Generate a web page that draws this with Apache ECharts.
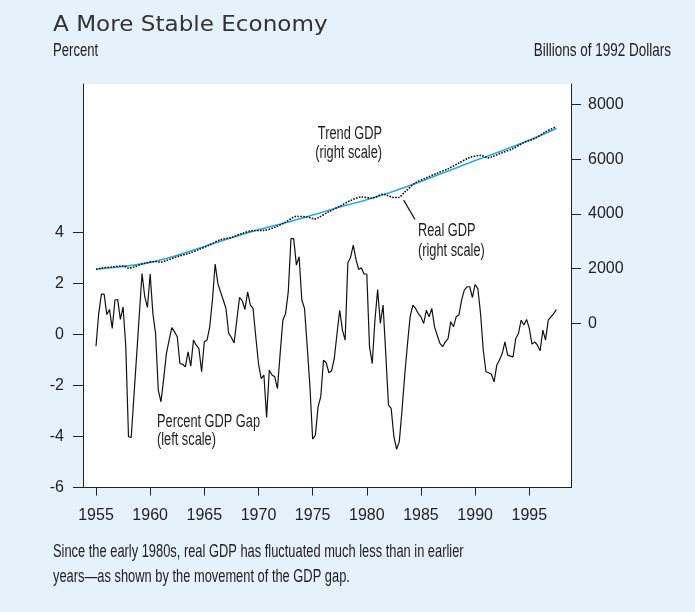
<!DOCTYPE html>
<html><head><meta charset="utf-8">
<script src="https://cdn.jsdelivr.net/npm/echarts@6/dist/echarts.min.js"></script>
<style>html,body{margin:0;padding:0;background:#e5f2fb}#c{width:695px;height:612px}</style>
</head><body><div id="c"></div>
<script>
// ---- data ----
const gapStartYear = 1955;          // quarterly series, first quarter of 1955
const gapPct = [
 -0.46,0.82,1.58,1.58,0.78,0.98,0.24,1.35,1.37,0.59,1.08,-0.48,
 -4.01,-4.04,-2.43,-0.83,0.78,2.39,1.48,1.06,2.37,0.82,0.04,-2.18,
 -2.64,-1.73,-0.75,-0.22,0.27,0.10,-0.09,-1.14,-1.17,-1.27,-0.68,-1.24,
 -0.22,-0.42,-0.55,-1.46,-0.29,-0.22,0.30,1.35,2.76,2.00,1.67,1.35,
 1.02,0.04,-0.12,-0.33,0.56,1.45,1.32,0.98,1.67,1.15,1.02,-0.09,
 -1.14,-1.73,-1.59,-3.25,-1.40,-1.59,-1.66,-2.12,-0.75,0.56,0.82,1.67,
 3.76,3.76,2.72,3.05,1.35,1.02,-0.48,-2.05,-4.10,-3.95,-2.84,-2.44,
 -1.01,-1.11,-1.50,-1.42,-0.94,0.04,0.95,0.17,-0.22,2.81,3.02,3.50,
 2.94,2.55,2.61,2.37,2.37,-0.48,-1.14,0.56,1.76,0.43,1.15,-0.75,
 -2.77,-2.90,-4.01,-4.50,-4.20,-2.97,-1.60,-0.40,0.70,1.15,1.02,0.82,
 0.69,0.43,0.95,0.69,1.02,0.30,-0.03,-0.35,-0.48,-0.29,-0.16,0.50,
 0.30,0.69,0.76,1.35,1.74,1.87,1.87,1.45,1.96,1.80,0.82,-0.61,
 -1.46,-1.50,-1.56,-1.86,-1.20,-1.00,-0.75,-0.29,-0.81,-0.85,-0.88,-0.16,
 0.04,0.56,0.37,0.59,0.24,-0.38,-0.29,-0.42,-0.64,0.17,-0.22,0.56,
 0.69,0.82,0.98
];
const realYears = [1955,1955.5,1956.5,1957.5,1958.0,1958.5,1959.5,1960.5,1961.0,1961.5,1962.5,1963.5,1964.5,
 1965.5,1966.5,1967.5,1968.5,1969.5,1970.5,1971.5,1972.5,1973.5,1974.5,1975.2,1975.5,1976.5,1977.5,1978.5,
 1979.5,1980.5,1981.5,1982.5,1982.9,1983.5,1984.5,1985.5,1986.5,1987.5,1988.5,1989.5,1990.5,1991.2,1991.5,
 1992.5,1993.5,1994.5,1995.5,1996.5,1997.5];
const realGDP = [1970,2020,2060,2100,2020,2060,2200,2260,2240,2300,2440,2550,2700,
 2870,3060,3140,3290,3390,3400,3510,3700,3910,3890,3820,3860,4080,4280,4490,
 4620,4580,4720,4600,4600,4800,5140,5320,5490,5650,5860,6060,6140,6050,6080,
 6240,6390,6610,6760,7000,7190];
const trendYears = [1955,1957.5,1960,1962.5,1965,1967.5,1970,1972.5,1975,1977.5,1980,1982.5,1985,1987.5,1990,1992.5,1995,1997.5];
const trendGDP   = [1980,2080,2230,2490,2810,3130,3420,3680,3960,4250,4520,4830,5190,5570,5950,6310,6690,7120];
const xTicks = [1955,1960,1965,1970,1975,1980,1985,1990,1995];
const leftTicks = [-6,-4,-2,0,2,4];
const rightTicks = [0,2000,4000,6000,8000];

// ---- build ----
const gapData = gapPct.map((v,i)=>[gapStartYear + i*0.25, v]);
const realData = realYears.map((y,i)=>[y, realGDP[i]]);
const trendData = trendYears.map((y,i)=>[y, trendGDP[i]]);

const FONT = '"Liberation Sans", Arial, sans-serif';
const INK = '#222';
const SX = 0.71;
const axisCommon = {
  splitLine:{show:false},
  axisLine:{show:true, onZero:false, lineStyle:{color:INK, width:1}},
};
const labelCommon = {fontSize:16, fontFamily:FONT, color:INK, formatter:v=>String(v)};
function note(x, y, text, align, size, sx){
  return {type:'text', x:x, y:y, scaleX: sx, scaleY: 1,
    style:{text:text, fill:INK, font: size + 'px ' + FONT, align:align, verticalAlign:'middle'}};
}
const chart = echarts.init(document.getElementById('c'));
chart.setOption({
  backgroundColor:'#e5f2fb',
  animation:false,
  grid:{left:83, right:124, top:84, bottom:124.5, show:true, backgroundColor:'#ffffff', borderWidth:0},
  xAxis:Object.assign({type:'value', min:1953.8, max:1998.85,
    axisTick:{show:true, length:8, customValues:xTicks, lineStyle:{color:INK}},
    axisLabel:Object.assign({customValues:xTicks, margin:20}, labelCommon)
  }, axisCommon),
  yAxis:[
    Object.assign({type:'value', position:'left', min:-6, max:9.82,
      axisTick:{show:true, length:10, customValues:leftTicks, lineStyle:{color:INK}},
      axisLabel:Object.assign({customValues:leftTicks, margin:19}, labelCommon)
    }, axisCommon),
    Object.assign({type:'value', position:'right', min:-6000, max:8750,
      axisTick:{show:true, length:10, customValues:rightTicks, lineStyle:{color:INK}},
      axisLabel:Object.assign({customValues:rightTicks, margin:17}, labelCommon)
    }, axisCommon)
  ],
  series:[
    {name:'Trend GDP', type:'line', yAxisIndex:1, data:trendData, smooth:0.4, symbol:'none',
      lineStyle:{color:'#27aee3', width:1.6}},
    {name:'Real GDP', type:'line', yAxisIndex:1, data:realData, smooth:0.3, symbol:'none',
      lineStyle:{color:'#111', width:1.6, type:[1.6,1.3]}},
    {name:'Percent GDP Gap', type:'line', yAxisIndex:0, data:gapData, symbol:'none',
      lineStyle:{color:'#111', width:1.2}}
  ],
  graphic:[
    {type:'text', x:53, y:25, scaleX:1.05,
      style:{text:'A More Stable Economy', fill:'#333', font:'22px "DejaVu Sans", sans-serif', verticalAlign:'middle'}},
    note(53, 51, 'Percent', 'left', 18.5, SX),
    note(671, 51, 'Billions of 1992 Dollars', 'right', 18.5, SX + 0.02),
    note(382, 134, 'Trend GDP', 'right', 18, SX),
    note(382, 153, '(right scale)', 'right', 18, SX),
    note(418, 231, 'Real GDP', 'left', 18, SX),
    note(418, 251, '(right scale)', 'left', 18, SX),
    {type:'line', shape:{x1:403.6, y1:200, x2:415, y2:219.5}, style:{stroke:'#111', lineWidth:1.3}},
    note(157, 422, 'Percent GDP Gap', 'left', 18, SX),
    note(157, 440, '(left scale)', 'left', 18, SX),
    note(53, 552, 'Since the early 1980s, real GDP has fluctuated much less than in earlier', 'left', 18, SX + 0.005),
    note(53, 577, 'years\u2014as shown by the movement of the GDP gap.', 'left', 18, SX + 0.005)
  ]
});
</script>
</body></html>
